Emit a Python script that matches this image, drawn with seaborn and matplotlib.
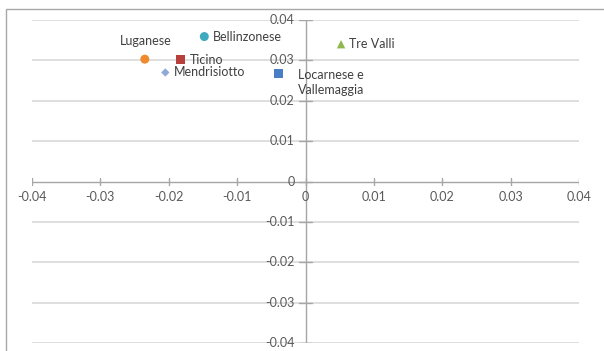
import matplotlib
matplotlib.use("Agg")
import matplotlib.pyplot as plt
import matplotlib.patches as mpatches
import seaborn as sns
import pandas as pd

# Regional coordinates
regions = ["Luganese", "Ticino", "Bellinzonese", "Mendrisiotto",
           "Locarnese e\nVallemaggia", "Tre Valli"]
x_vals = [-0.0235, -0.0183, -0.0148, -0.0205, -0.0039, 0.0052]
y_vals = [0.0303, 0.0303, 0.0359, 0.0270, 0.0268, 0.0340]
colors = ["#F08A2E", "#B8403C", "#3FA9BF", "#8FA8D8", "#4A7EC4", "#8DB84A"]
markers = ["o", "s", "o", "D", "s", "^"]
sizes = [42, 42, 42, 18, 40, 36]
ticks = [-0.04, -0.03, -0.02, -0.01, 0, 0.01, 0.02, 0.03, 0.04]
tick_labels = ["-0.04", "-0.03", "-0.02", "-0.01", "0", "0.01", "0.02", "0.03", "0.04"]

df = pd.DataFrame({"region": regions, "x": x_vals, "y": y_vals, "s": sizes})

sns.set_theme(style="white")
plt.rcParams["font.family"] = ["Lato", "DejaVu Sans"]

W, H = 604, 351
fig = plt.figure(figsize=(W / 100, H / 100), dpi=100)
fig.patch.set_facecolor("white")

# chart frame
fig.add_artist(mpatches.Rectangle((6 / W, -0.2), 1.2, (H - 9) / H + 0.2,
                                  transform=fig.transFigure, fill=False,
                                  edgecolor="#a8a8a8", lw=1.0))
fig.text(5 / W, 1 + 1.5 / H, "(", ha="left", va="baseline", fontsize=9, color="#444444")
fig.text(392 / W, 1 + 1.5 / H, ")", ha="left", va="baseline", fontsize=9, color="#444444")

ax = fig.add_axes([32 / W, 1 - 343 / H, (579 - 32) / W, (343 - 20) / H])
ax.set_xlim(-0.04, 0.04)
ax.set_ylim(-0.04, 0.04)
for s in ax.spines.values():
    s.set_visible(False)
ax.set_xticks([])
ax.set_yticks([])
ax.set_facecolor("none")

# horizontal gridlines
for t in ticks:
    if t != 0:
        ax.axhline(t, color="#d9d9d9", lw=1.2, zorder=0)
ax.axhline(0, color="#a6a6a6", lw=1.0, zorder=1)
ax.axvline(0, color="#a6a6a6", lw=1.0, zorder=1)

# tick marks on both axes
for t in ticks:
    ax.plot([t, t], [-0.0009, 0.0009], color="#a6a6a6", lw=1.0, zorder=1)
    ax.plot([-0.0009, 0.0009], [t, t], color="#a6a6a6", lw=1.0, zorder=1)

# axis tick labels
for t, lab in zip(ticks, tick_labels):
    ax.annotate(lab, xy=(0, t), xytext=(-8, 0), textcoords="offset points",
                ha="right", va="center", fontsize=9, color="#595959", zorder=3)
    ax.annotate(lab, xy=(t, 0), xytext=(0, -11), textcoords="offset points",
                ha="center", va="center", fontsize=9, color="#595959", zorder=3)

sns.scatterplot(data=df, x="x", y="y", hue="region", style="region", size="s",
                sizes=(min(sizes), max(sizes)),
                palette=dict(zip(regions, colors)),
                markers=dict(zip(regions, markers)),
                edgecolor="none", linewidth=0, legend=False, ax=ax, zorder=4)
ax.set_xlabel("")
ax.set_ylabel("")

# data labels
offsets = {
    "Luganese": ((1, 13), "center", "center"),
    "Ticino": ((6.5, -0.5), "left", "center"),
    "Bellinzonese": ((6, 0), "left", "center"),
    "Mendrisiotto": ((6.5, 0), "left", "center"),
    "Locarnese e\nVallemaggia": ((13.5, -6.5), "left", "center"),
    "Tre Valli": ((6, 0), "left", "center"),
}
for r, x, y in zip(regions, x_vals, y_vals):
    off, ha, va = offsets[r]
    ax.annotate(r, xy=(x, y), xytext=off, textcoords="offset points",
                ha=ha, va=va, fontsize=9, color="#404040", linespacing=1.25,
                zorder=5)

fig.savefig("out.png", dpi=100)
